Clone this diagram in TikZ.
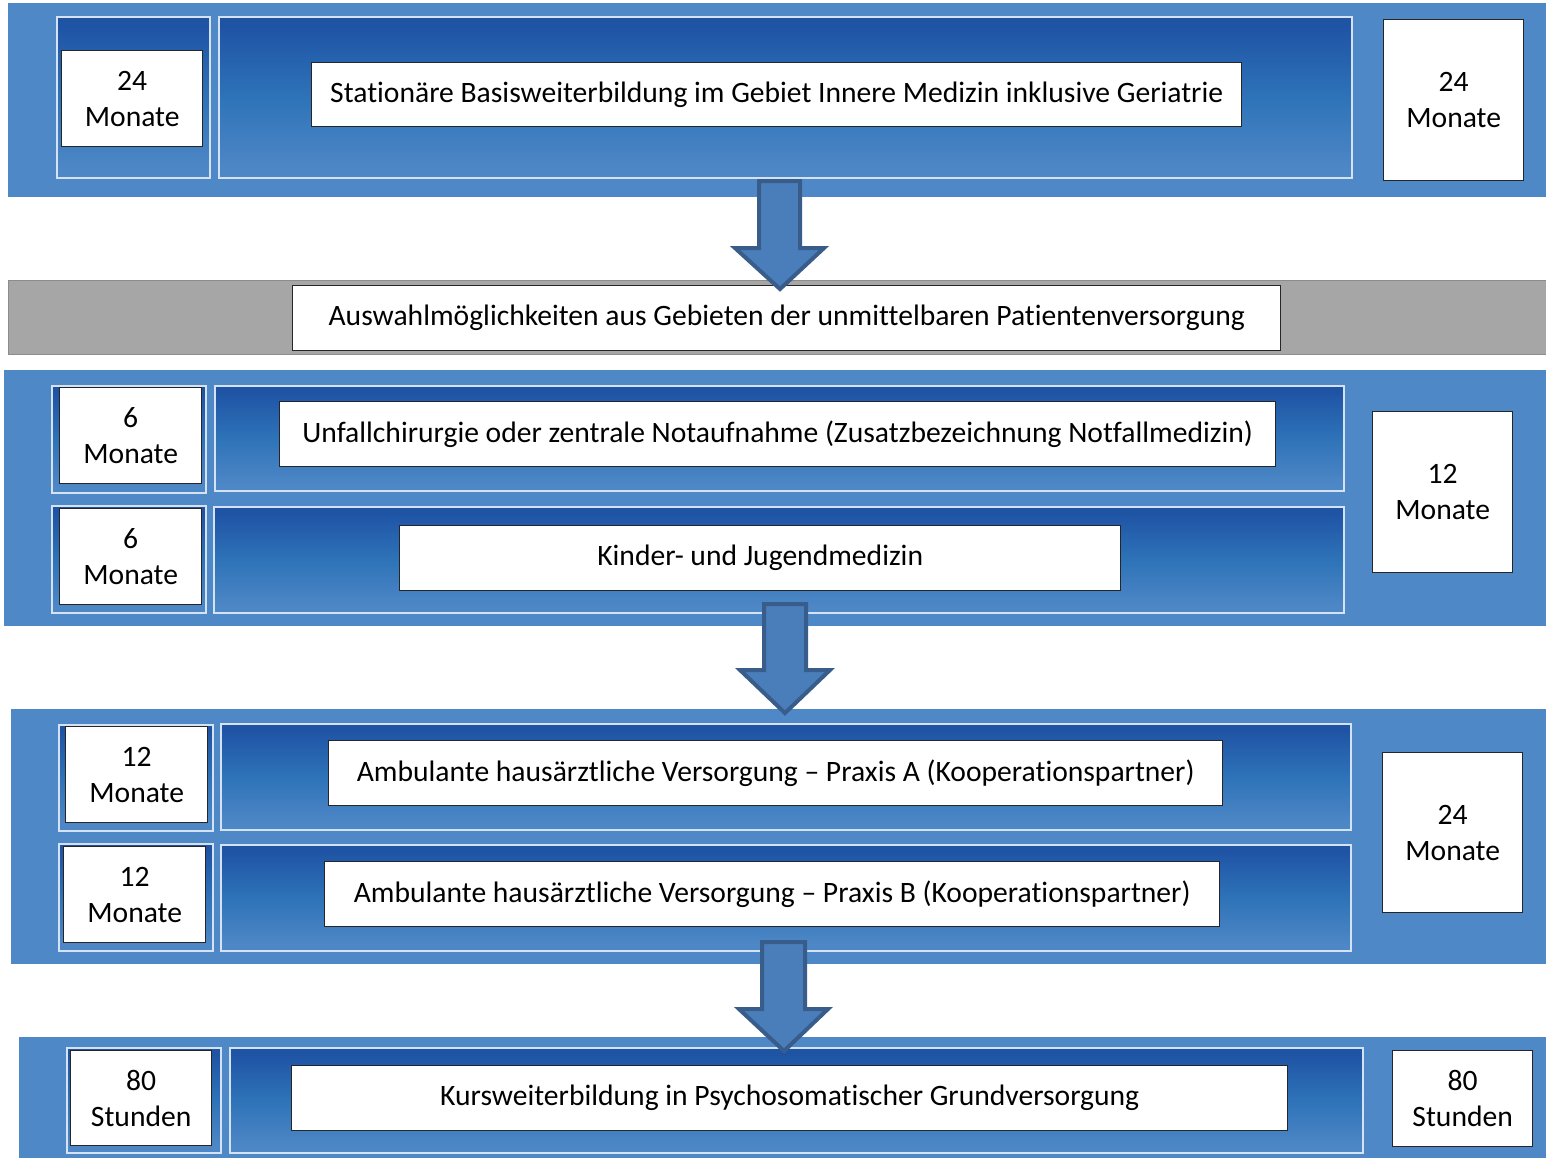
\documentclass[tikz,border=0pt]{standalone}
\usepackage{fontspec}
\setmainfont{Carlito}[Ligatures=NoCommon]
\definecolor{bgblue}{HTML}{4F88C6}
\definecolor{gdark}{HTML}{1F54A5}
\definecolor{gmid}{HTML}{2E73B8}
\definecolor{glight}{HTML}{4E87C6}
\definecolor{arrfill}{HTML}{4A7EBB}
\definecolor{arrline}{HTML}{385D8A}
\definecolor{framecol}{HTML}{D5E2F3}
\pgfdeclareverticalshading{panelgrad}{100bp}{color(0bp)=(glight);color(28bp)=(glight);color(50bp)=(gmid);color(72bp)=(gdark);color(100bp)=(gdark)}
\newcommand\rbox[7]{\node[#2,anchor=north west,inner sep=0pt,minimum width={(#5-#3)*1bp},minimum height={(#6-#4)*1bp}] (#1) at (#3,-#4) {#7};}
\tikzset{
  panelbg/.style={fill=bgblue,draw=none},
  graybar/.style={fill=black!35,draw=black!45,line width=1.2bp},
  framebox/.style={shading=panelgrad,draw=framecol,line width=2bp},
  whitebox/.style={fill=white,draw=black!85,line width=1.4bp,align=center,font=\fontsize{29.6bp}{36bp}\selectfont},
  bigarrow/.style={fill=arrfill,draw=arrline,line width=4bp,line join=miter},
}
\begin{document}
\begin{tikzpicture}[x=1bp,y=1bp]
\useasboundingbox (0,0) rectangle (1546,-1158);
\fill[white] (0,0) rectangle (1546,-1158);
% Panel 1
\rbox{p1}{panelbg}{8}{3}{1546}{197}{}
\rbox{p1lf}{framebox}{56}{16}{209}{177}{}
\rbox{p1mf}{framebox}{218}{16}{1351}{177}{}
\rbox{p1l}{whitebox}{61}{50}{202}{146}{24\\Monate}
\rbox{p1m}{whitebox}{311}{62}{1241}{126}{Stationäre Basisweiterbildung im Gebiet Innere Medizin inklusive Geriatrie}
\rbox{p1r}{whitebox}{1383}{19}{1523}{180}{24\\Monate}
% Gray bar
\rbox{gb}{graybar}{8}{280}{1546}{354}{}
\rbox{gbm}{whitebox}{292}{285}{1280}{350}{Auswahlmöglichkeiten aus Gebieten der unmittelbaren Patientenversorgung}
% Panel 2
\rbox{p2}{panelbg}{4}{370}{1546}{626}{}
\rbox{p2alf}{framebox}{51}{385}{205}{492}{}
\rbox{p2amf}{framebox}{214}{385}{1343}{490}{}
\rbox{p2blf}{framebox}{51}{505}{205}{612}{}
\rbox{p2bmf}{framebox}{213}{506}{1343}{612}{}
\rbox{p2al}{whitebox}{59}{387}{201}{483}{6\\Monate}
\rbox{p2am}{whitebox}{279}{401}{1275}{466}{Unfallchirurgie oder zentrale Notaufnahme (Zusatzbezeichnung Notfallmedizin)}
\rbox{p2bl}{whitebox}{59}{508}{201}{604}{6\\Monate}
\rbox{p2bm}{whitebox}{399}{525}{1120}{590}{Kinder- und Jugendmedizin}
\rbox{p2r}{whitebox}{1372}{411}{1512}{572}{12\\Monate}
% Panel 3
\rbox{p3}{panelbg}{11}{709}{1546}{964}{}
\rbox{p3alf}{framebox}{58}{724}{212}{830}{}
\rbox{p3amf}{framebox}{220}{723}{1350}{829}{}
\rbox{p3blf}{framebox}{58}{843}{212}{950}{}
\rbox{p3bmf}{framebox}{220}{844}{1350}{950}{}
\rbox{p3al}{whitebox}{65}{726}{207}{822}{12\\Monate}
\rbox{p3am}{whitebox}{328}{740}{1222}{805}{Ambulante hausärztliche Versorgung – Praxis A (Kooperationspartner)}
\rbox{p3bl}{whitebox}{63}{846}{205}{942}{12\\Monate}
\rbox{p3bm}{whitebox}{324}{861}{1219}{926}{Ambulante hausärztliche Versorgung – Praxis B (Kooperationspartner)}
\rbox{p3r}{whitebox}{1382}{752}{1522}{912}{24\\Monate}
% Panel 4
\rbox{p4}{panelbg}{19}{1037}{1546}{1158}{}
\rbox{p4lf}{framebox}{66}{1047}{220}{1152}{}
\rbox{p4mf}{framebox}{229}{1047}{1362}{1152}{}
\rbox{p4l}{whitebox}{70}{1050}{211}{1145}{80\\Stunden}
\rbox{p4m}{whitebox}{291}{1065}{1287}{1130}{Kursweiterbildung in Psychosomatischer Grundversorgung}
\rbox{p4r}{whitebox}{1392}{1050}{1532}{1146}{80\\Stunden}
% Arrows
\draw[bigarrow] (759,-181) -- (800,-181) -- (800,-248) -- (824,-248) -- (780,-289) -- (735,-248) -- (759,-248) -- cycle;
\draw[bigarrow] (764,-604) -- (806,-604) -- (806,-670) -- (830,-670) -- (785,-713) -- (740,-670) -- (764,-670) -- cycle;
\draw[bigarrow] (762,-942) -- (805,-942) -- (805,-1009) -- (828,-1009) -- (784,-1051) -- (739,-1009) -- (762,-1009) -- cycle;
\end{tikzpicture}
\end{document}
